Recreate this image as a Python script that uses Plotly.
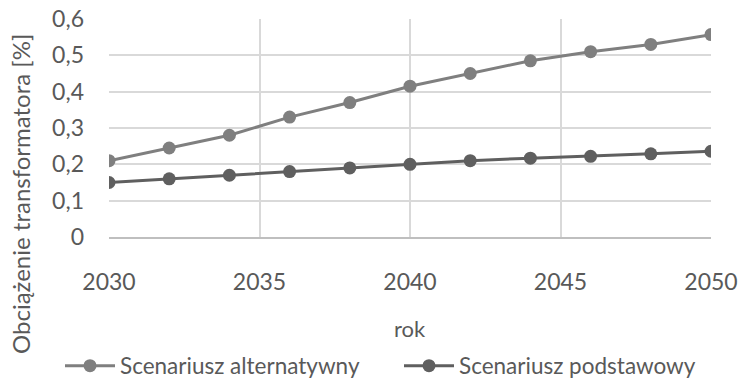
import plotly.graph_objects as go

years = [2030, 2032, 2034, 2036, 2038, 2040, 2042, 2044, 2046, 2048, 2050]
alternatywny = [0.21, 0.245, 0.28, 0.33, 0.37, 0.415, 0.45, 0.485, 0.51, 0.53, 0.557]
podstawowy = [0.15, 0.16, 0.17, 0.18, 0.19, 0.20, 0.21, 0.217, 0.222, 0.229, 0.236]

x_ticks = [2030, 2035, 2040, 2045, 2050]
y_ticks = [0, 0.1, 0.2, 0.3, 0.4, 0.5, 0.6]
y_tick_text = ["0", "0,1", "0,2", "0,3", "0,4", "0,5", "0,6"]

FONT = "Lato"
TEXT = "#595959"

fig = go.Figure()
fig.add_trace(go.Scatter(
    x=years, y=alternatywny, name="Scenariusz alternatywny",
    mode="lines+markers",
    line=dict(color="#7f7f7f", width=3),
    marker=dict(color="#7f7f7f", size=13),
))
fig.add_trace(go.Scatter(
    x=years, y=podstawowy, name="Scenariusz podstawowy",
    mode="lines+markers",
    line=dict(color="#5f5f5f", width=3),
    marker=dict(color="#5f5f5f", size=13),
))

PLOT_W, PLOT_H = 602, 218

fig.update_layout(
    width=738, height=381,
    margin=dict(l=109, r=27, t=19, b=144, autoexpand=False),
    paper_bgcolor="white", plot_bgcolor="white",
    font=dict(family=FONT, color=TEXT, size=22),
    showlegend=True,
    legend=dict(
        orientation="h", x=(60 - 109) / PLOT_W, xanchor="left",
        y=(237 - 366) / PLOT_H, yanchor="middle",
        font=dict(size=22.5, color=TEXT), itemwidth=50, entrywidth=274,
    ),
    annotations=[
        dict(text="Obciążenie transformatora [%]", textangle=-90,
             xref="paper", yref="paper", x=(20 - 109) / PLOT_W, y=(237 - 194) / PLOT_H,
             xanchor="center", yanchor="middle", showarrow=False,
             font=dict(size=24, color=TEXT)),
        dict(text="rok",
             xref="paper", yref="paper", x=0.5, y=(237 - 328) / PLOT_H,
             xanchor="center", yanchor="middle", showarrow=False,
             font=dict(size=22, color=TEXT)),
    ],
)
fig.update_xaxes(
    range=[2030, 2050], tickvals=x_ticks, automargin=False,
    showgrid=True, gridcolor="#d9d9d9", gridwidth=1.5,
    showline=True, linecolor="#bfbfbf", linewidth=1.5,
    zeroline=False, ticks="", ticklabelstandoff=24,
    tickfont=dict(size=23, color=TEXT),
)
fig.update_yaxes(
    range=[0, 0.6], tickvals=y_ticks, ticktext=y_tick_text, automargin=False,
    showgrid=True, gridcolor="#d9d9d9", gridwidth=1.5,
    zeroline=False, ticks="", ticklabelstandoff=24,
    tickfont=dict(size=23, color=TEXT),
)

fig.write_html("out.html")
